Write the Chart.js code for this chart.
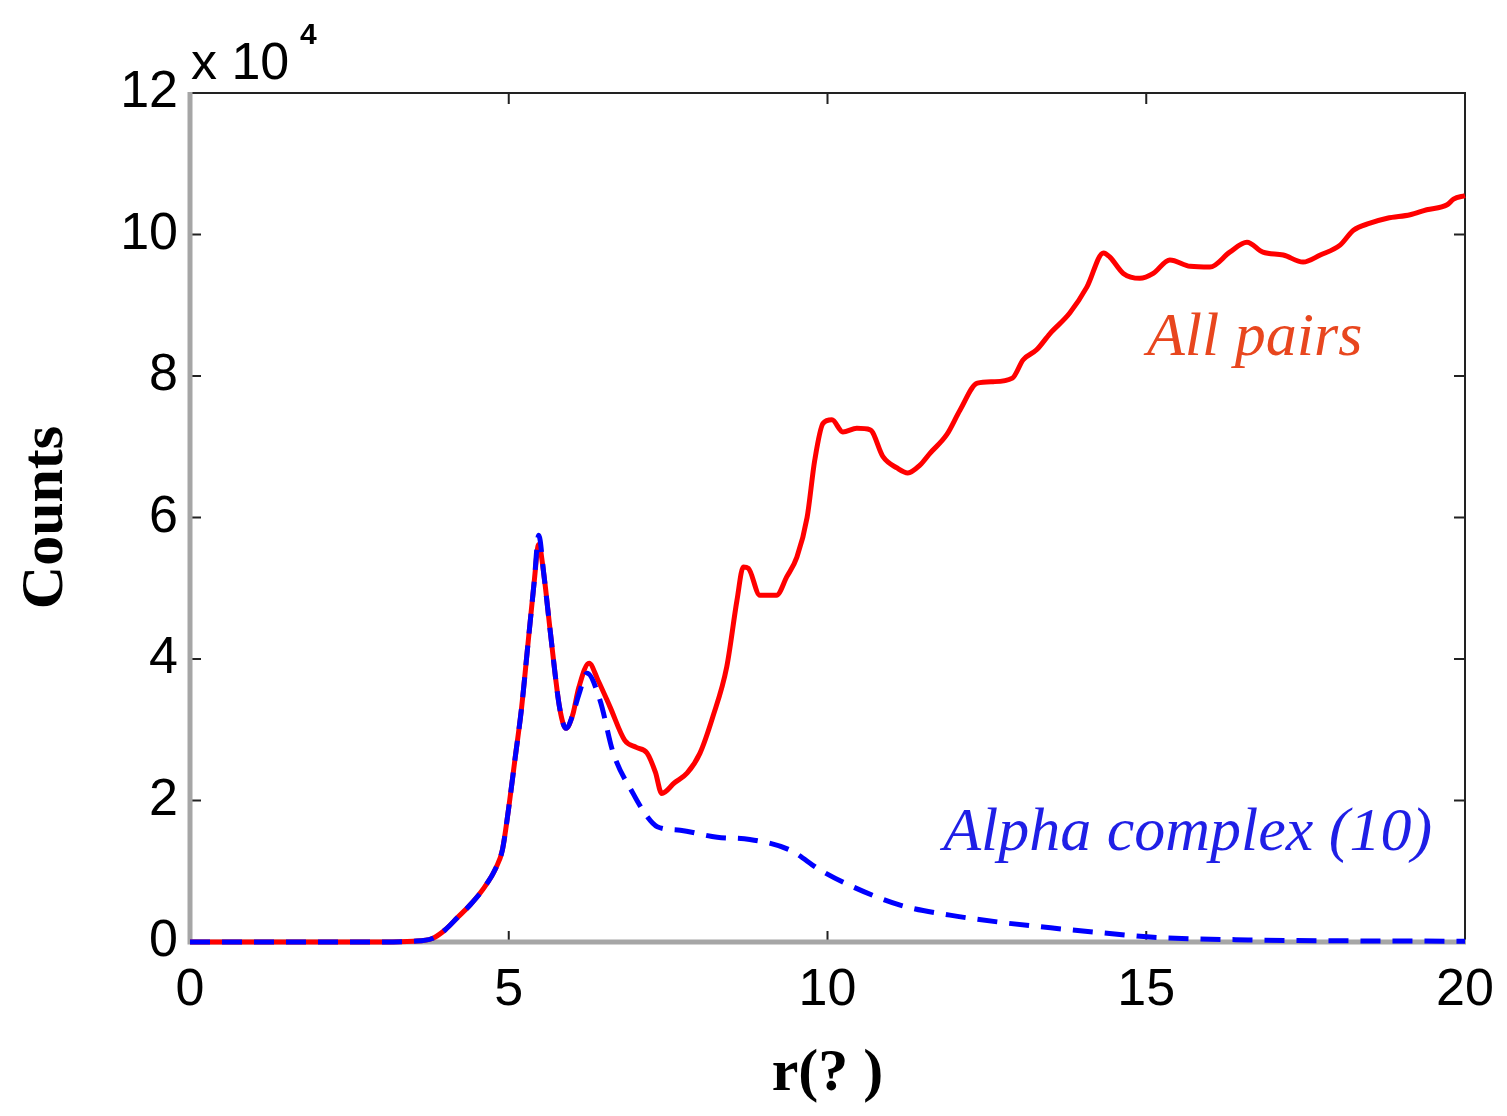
<!DOCTYPE html>
<html>
<head>
<meta charset="utf-8">
<script src="https://cdn.jsdelivr.net/npm/chart.js@4.4.0/dist/chart.umd.min.js"></script>
<style>
  html, body { margin: 0; padding: 0; background: #fff; }
  #wrap { width: 1507px; height: 1116px; }
</style>
</head>
<body>
<div id="wrap"><canvas id="rdf-chart" width="1507" height="1116"></canvas></div>
<script>
// r in angstrom, counts in units of 10^4
const rAll = [0, 1, 2, 3, 3.5, 3.8, 4.0, 4.2, 4.4, 4.6, 4.8, 4.9, 5.0, 5.1, 5.2, 5.3, 5.4, 5.47, 5.55, 5.65, 5.8, 5.9, 6.0, 6.1, 6.26,
  6.4, 6.59, 6.82, 7.0, 7.17, 7.3, 7.4, 7.6, 7.8, 8.0, 8.2, 8.42, 8.58, 8.68, 8.76, 8.94, 9.2, 9.36, 9.52, 9.68, 9.8, 9.93,
  10.07, 10.24, 10.46, 10.67, 10.87, 11.09, 11.26, 11.45, 11.61, 11.87, 12.08, 12.35, 12.6, 12.9, 13.07, 13.28, 13.49, 13.8,
  14.07, 14.33, 14.43, 14.64, 14.9, 15.11, 15.37, 15.69, 16.0, 16.31, 16.58, 16.83, 17.15, 17.46, 17.73, 18.04, 18.25, 18.51,
  18.78, 19.14, 19.4, 19.72, 19.82, 20];
const countsAll = [0, 0, 0, 0, 0.01, 0.05, 0.17, 0.35, 0.53, 0.75, 1.05, 1.3, 1.9, 2.6, 3.3, 4.2, 5.1, 5.62, 5.2, 4.4, 3.3, 3.02, 3.2, 3.6, 3.94,
  3.7, 3.32, 2.85, 2.75, 2.67, 2.4, 2.1, 2.25, 2.39, 2.67, 3.18, 3.89, 4.83, 5.3, 5.28, 4.9, 4.9, 5.16, 5.44, 6.0, 6.81, 7.33,
  7.38, 7.21, 7.26, 7.24, 6.86, 6.7, 6.63, 6.74, 6.91, 7.17, 7.52, 7.9, 7.92, 7.97, 8.23, 8.37, 8.6, 8.89,
  9.26, 9.74, 9.68, 9.45, 9.38, 9.45, 9.64, 9.55, 9.54, 9.75, 9.89, 9.75, 9.71, 9.61, 9.71, 9.85, 10.06, 10.16,
  10.23, 10.28, 10.35, 10.42, 10.5, 10.55];

const rAlpha = [0, 1, 2, 3, 3.5, 3.8, 4.0, 4.2, 4.4, 4.6, 4.8, 4.9, 5.0, 5.1, 5.2, 5.3, 5.4, 5.47, 5.55, 5.65, 5.8, 5.9, 6.0, 6.1, 6.23,
  6.43, 6.64, 6.95, 7.15, 7.33, 7.69, 8.27, 8.78, 9.41, 9.88, 10.35, 11.14, 11.92, 12.7, 13.5, 14.3, 15.06, 16.6, 20];
const countsAlpha = [0, 0, 0, 0, 0.01, 0.05, 0.17, 0.35, 0.53, 0.75, 1.05, 1.3, 1.9, 2.6, 3.3, 4.2, 5.1, 5.75, 5.2, 4.4, 3.3, 3.02, 3.2, 3.5, 3.8,
  3.42, 2.67, 2.1, 1.8, 1.63, 1.58, 1.48, 1.45, 1.3, 1.02, 0.8, 0.52, 0.38, 0.28, 0.2, 0.13, 0.07, 0.03, 0.01];

const xTicks = [0, 5, 10, 15, 20];
const yTicks = [0, 2, 4, 6, 8, 10, 12];

const seriesLabels = ["All pairs", "Alpha complex (10)"];
// where the in-plot labels sit, in data units (r, counts)
const labelAt = [[16.7, 8.3], [15.65, 1.3]];

const PLOT = { left: 190, right: 1465, top: 93, bottom: 942 };
const W = 1507, H = 1116;

function toPoints(xs, ys) {
  return xs.map((x, i) => ({ x, y: ys[i] }));
}

// frame: grey left/bottom, dark top/right, inward ticks on all four sides
const framePlugin = {
  id: "frame",
  beforeDatasetsDraw(chart) {
    const { ctx, chartArea: a, scales } = chart;
    ctx.save();
    ctx.lineCap = "butt";
    ctx.strokeStyle = "#222";
    ctx.lineWidth = 2;
    ctx.beginPath();
    ctx.moveTo(a.left, a.top); ctx.lineTo(a.right, a.top); ctx.lineTo(a.right, a.bottom);
    ctx.stroke();

    const tl = 11;
    ctx.beginPath();
    xTicks.forEach((v) => {
      const px = scales.x.getPixelForValue(v);
      ctx.moveTo(px, a.bottom); ctx.lineTo(px, a.bottom - tl);
      ctx.moveTo(px, a.top); ctx.lineTo(px, a.top + tl);
    });
    yTicks.forEach((v) => {
      const py = scales.y.getPixelForValue(v);
      ctx.moveTo(a.left, py); ctx.lineTo(a.left + tl, py);
      ctx.moveTo(a.right, py); ctx.lineTo(a.right - tl, py);
    });
    ctx.stroke();

    ctx.strokeStyle = "#a6a6a6";
    ctx.lineWidth = 5;
    ctx.beginPath();
    ctx.moveTo(a.left, a.top - 1); ctx.lineTo(a.left, a.bottom); ctx.lineTo(a.right + 1, a.bottom);
    ctx.stroke();
    ctx.restore();
  },
  afterDraw(chart) {
    const { ctx, chartArea: a, scales } = chart;
    ctx.save();
    ctx.fillStyle = "#000";
    ctx.textBaseline = "alphabetic";
    ctx.textAlign = "left";
    ctx.font = "52px 'Liberation Sans', sans-serif";
    ctx.fillText("x 10", a.left + 1, 79);
    ctx.font = "bold 30px 'Liberation Sans', sans-serif";
    ctx.fillText("4", a.left + 110, 44);

    const colors = ["#e8461e", "#1f1fe6"];
    ctx.font = "italic 62px 'Liberation Serif', serif";
    ctx.textAlign = "center";
    seriesLabels.forEach((txt, i) => {
      ctx.fillStyle = colors[i];
      ctx.fillText(txt, scales.x.getPixelForValue(labelAt[i][0]), scales.y.getPixelForValue(labelAt[i][1]));
    });
    ctx.restore();
  },
};

new Chart(document.getElementById("rdf-chart"), {
  type: "line",
  data: {
    datasets: [
      {
        label: seriesLabels[1],
        data: toPoints(rAlpha, countsAlpha),
        borderColor: "#0000ff",
        borderWidth: 5,
        borderDash: [20, 12],
        pointRadius: 0,
        cubicInterpolationMode: "monotone",
        clip: 8,
        order: 0,
      },
      {
        label: seriesLabels[0],
        data: toPoints(rAll, countsAll),
        borderColor: "#ff0000",
        borderWidth: 5,
        pointRadius: 0,
        cubicInterpolationMode: "monotone",
        clip: 8,
        order: 1,
      },
    ],
  },
  options: {
    responsive: false,
    animation: false,
    devicePixelRatio: 1,
    layout: { padding: { left: 0, top: PLOT.top, right: W - PLOT.right, bottom: 0 } },
    plugins: { legend: { display: false }, tooltip: { enabled: false } },
    scales: {
      x: {
        type: "linear",
        min: 0,
        max: 20,
        afterBuildTicks(scale) { scale.ticks = xTicks.map((value) => ({ value })); },
        afterFit(scale) {
          scale.height = H - PLOT.bottom;
          scale.paddingLeft = 0;
          scale.paddingRight = 0;
        },
        grid: { display: false, drawTicks: false },
        border: { display: false },
        ticks: { color: "#000", padding: 17, font: { family: "'Liberation Sans', sans-serif", size: 52 } },
        title: {
          display: true,
          text: "r(? )",
          color: "#000",
          padding: { bottom: 6 },
          font: { family: "'Liberation Serif', serif", size: 60, weight: "bold" },
        },
      },
      y: {
        type: "linear",
        min: 0,
        max: 12,
        afterBuildTicks(scale) { scale.ticks = yTicks.map((value) => ({ value })); },
        afterFit(scale) {
          scale.width = PLOT.left;
          scale.paddingTop = 0;
          scale.paddingBottom = 0;
        },
        grid: { display: false, drawTicks: false },
        border: { display: false },
        ticks: { color: "#000", padding: 12, font: { family: "'Liberation Sans', sans-serif", size: 52 } },
        title: {
          display: true,
          text: "Counts",
          color: "#000",
          padding: { top: 10 },
          font: { family: "'Liberation Serif', serif", size: 60, weight: "bold" },
        },
      },
    },
  },
  plugins: [framePlugin],
});
</script>
</body>
</html>
